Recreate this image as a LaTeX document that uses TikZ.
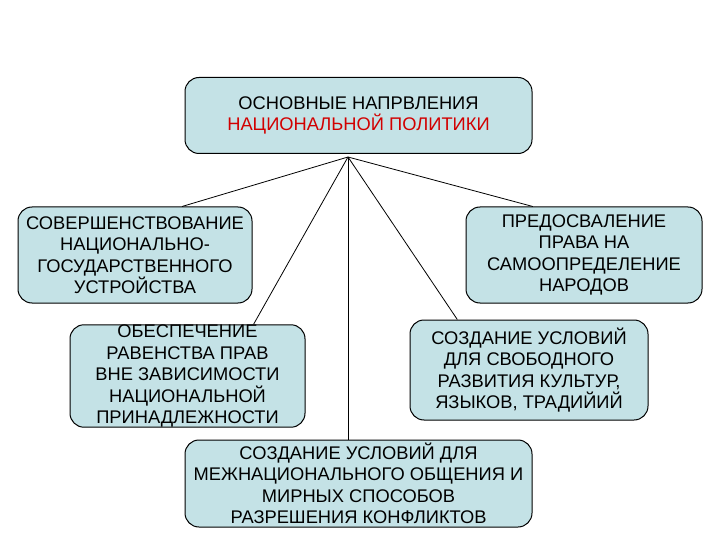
\documentclass[tikz,border=0pt]{standalone}
\usepackage{fontspec}
\setmainfont{Liberation Sans}
\usetikzlibrary{calc}
\definecolor{boxfill}{RGB}{196,226,230}
\definecolor{titlered}{RGB}{210,0,0}

\begin{document}
\begin{tikzpicture}[x=1pt,y=-1pt,font=\fontsize{18.3}{21.5}\selectfont,
box/.style={draw,fill=boxfill,rounded corners=14pt,line width=1pt,align=center,inner sep=0pt},
link/.style={line width=0.8pt}]

\useasboundingbox (0,0) rectangle (720,540);

\node[box,minimum width=347pt,minimum height=76pt] (top) at (358.5,115.5) {ОСНОВНЫЕ НАПРВЛЕНИЯ\\\textcolor{titlered}{НАЦИОНАЛЬНОЙ ПОЛИТИКИ}};

\node[box,minimum width=234pt,minimum height=96pt] (left1) at (135,255) {СОВЕРШЕНСТВОВАНИЕ\\НАЦИОНАЛЬНО-\\ГОСУДАРСТВЕННОГО\\УСТРОЙСТВА};
\node[box,minimum width=236pt,minimum height=96pt] (right1) at (584,255) {ПРЕДОСВАЛЕНИЕ\\ПРАВА НА\\САМООПРЕДЕЛЕНИЕ\\НАРОДОВ};

\node[box,minimum width=235pt,minimum height=102pt] (left2) at (187.5,376) {ОБЕСПЕЧЕНИЕ\\РАВЕНСТВА ПРАВ\\ВНЕ ЗАВИСИМОСТИ\\НАЦИОНАЛЬНОЙ\\ПРИНАДЛЕЖНОСТИ};
\node[box,minimum width=238pt,minimum height=100pt] (right2) at (529,370) {СОЗДАНИЕ УСЛОВИЙ\\ДЛЯ СВОБОДНОГО\\РАЗВИТИЯ КУЛЬТУР,\\ЯЗЫКОВ, ТРАДИЙИЙ};

\node[box,minimum width=347pt,minimum height=87pt] (bottom) at (358.5,483.5) {СОЗДАНИЕ УСЛОВИЙ ДЛЯ\\МЕЖНАЦИОНАЛЬНОГО ОБЩЕНИЯ И\\МИРНЫХ СПОСОБОВ\\РАЗРЕШЕНИЯ КОНФЛИКТОВ};

% lines from the hub under the top box
\coordinate (hub) at (348,157);
\draw[link] (hub) -- ($(left1.north west)!0.70!(left1.north east)$);
\draw[link] (hub) -- ($(right1.north west)!0.284!(right1.north east)$);
\draw[link] (hub) -- ($(left2.north west)!0.78!(left2.north east)$);
\draw[link] (hub) -- ($(right2.north west)!0.2!(right2.north east)$);
\draw[link] (hub) -- (hub |- bottom.north);

\end{tikzpicture}
\end{document}
